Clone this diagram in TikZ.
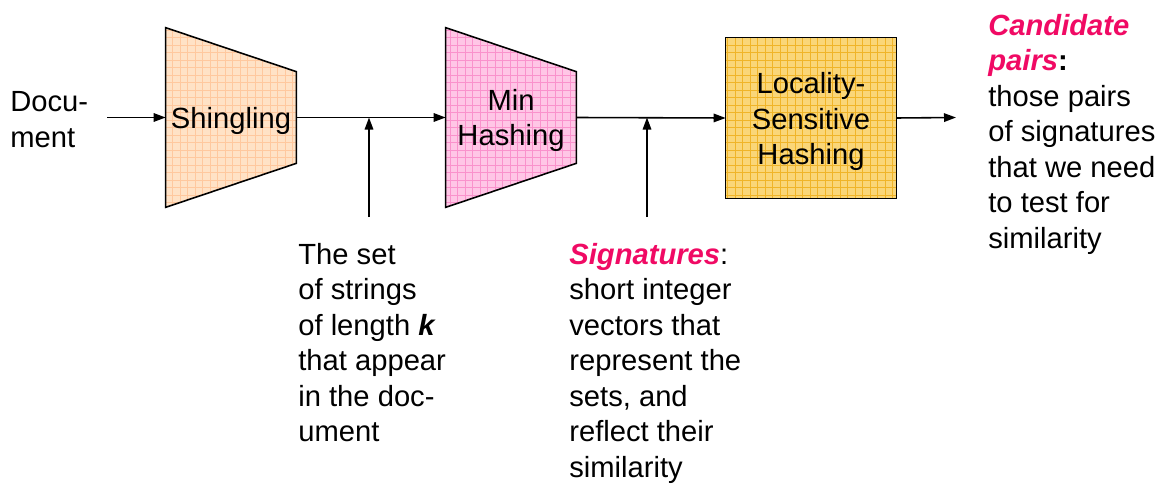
\documentclass[tikz,border=0pt]{standalone}
\usepackage{fontspec}
\setmainfont{Liberation Sans}
\usetikzlibrary{arrows.meta}

\definecolor{keypink}{RGB}{240,10,100}
\definecolor{shinglefill}{RGB}{255,226,198}
\definecolor{shinglegrid}{RGB}{255,200,158}
\definecolor{minfill}{RGB}{255,198,230}
\definecolor{mingrid}{RGB}{250,146,204}
\definecolor{lshfill}{RGB}{250,214,120}
\definecolor{lshgrid}{RGB}{240,180,40}

\tikzset{
stage/.style={inner sep=0pt},
outline/.style={draw=black,line width=0.9pt},
flow/.style={line width=0.9pt,-{Triangle[length=2.4mm,width=1.7mm]}},
note/.style={align=left,inner sep=0pt,anchor=north west}
}

\begin{document}
\begin{tikzpicture}[font=\fontsize{16.6}{20.2}\selectfont]

\useasboundingbox (0,0) rectangle (23.24,-9.76);

%%%%%%%%%%%%%%%%%%%%%%%%%%%%%%%%%%%%%%%%%%%%%%%%%%%%%%%%%%%%%%
% INPUT
%%%%%%%%%%%%%%%%%%%%%%%%%%%%%%%%%%%%%%%%%%%%%%%%%%%%%%%%%%%%%%

\node[
note,
anchor=west
](doc)
at (0.2,-2.39)
{Docu-\\ment};

\coordinate (docout) at (2.14,-2.35);

%%%%%%%%%%%%%%%%%%%%%%%%%%%%%%%%%%%%%%%%%%%%%%%%%%%%%%%%%%%%%%
% SHINGLING
%%%%%%%%%%%%%%%%%%%%%%%%%%%%%%%%%%%%%%%%%%%%%%%%%%%%%%%%%%%%%%

\node[
stage,
minimum width=2.6cm,
minimum height=3.58cm
](shingle)
at (4.62,-2.35)
{};

\begin{scope}
\clip (shingle.north west) -- ([yshift=-0.88cm]shingle.north east)
  -- ([yshift=0.88cm]shingle.south east) -- (shingle.south west) -- cycle;
\fill[shinglefill] (shingle.south west) rectangle (shingle.north east);
\draw[shinglegrid,line width=0.4pt,step=0.15] (shingle.south west) grid (shingle.north east);
\end{scope}

\draw[outline] (shingle.north west) -- ([yshift=-0.88cm]shingle.north east)
  -- ([yshift=0.88cm]shingle.south east) -- (shingle.south west) -- cycle;

\node(shingletext) at ([yshift=-0.07cm]shingle.center) {Shingling};

%%%%%%%%%%%%%%%%%%%%%%%%%%%%%%%%%%%%%%%%%%%%%%%%%%%%%%%%%%%%%%
% MIN HASHING
%%%%%%%%%%%%%%%%%%%%%%%%%%%%%%%%%%%%%%%%%%%%%%%%%%%%%%%%%%%%%%

\node[
stage,
minimum width=2.6cm,
minimum height=3.58cm
](minhash)
at (10.22,-2.35)
{};

\begin{scope}
\clip (minhash.north west) -- ([yshift=-0.88cm]minhash.north east)
  -- ([yshift=0.88cm]minhash.south east) -- (minhash.south west) -- cycle;
\fill[minfill] (minhash.south west) rectangle (minhash.north east);
\draw[mingrid,line width=0.4pt,step=0.15] (minhash.south west) grid (minhash.north east);
\end{scope}

\draw[outline] (minhash.north west) -- ([yshift=-0.88cm]minhash.north east)
  -- ([yshift=0.88cm]minhash.south east) -- (minhash.south west) -- cycle;

\node[align=center](minhashtext) at ([yshift=-0.06cm]minhash.center) {Min\\Hashing};

%%%%%%%%%%%%%%%%%%%%%%%%%%%%%%%%%%%%%%%%%%%%%%%%%%%%%%%%%%%%%%
% LOCALITY-SENSITIVE HASHING
%%%%%%%%%%%%%%%%%%%%%%%%%%%%%%%%%%%%%%%%%%%%%%%%%%%%%%%%%%%%%%

\node[
stage,
minimum width=3.4cm,
minimum height=3.2cm
](lsh)
at (16.22,-2.36)
{};

\fill[lshfill] (lsh.south west) rectangle (lsh.north east);
\begin{scope}
\clip (lsh.south west) rectangle (lsh.north east);
\draw[lshgrid,line width=0.4pt,step=0.15] (lsh.south west) grid (lsh.north east);
\end{scope}
\draw[outline] (lsh.south west) rectangle (lsh.north east);

\node[align=center](lshtext) at ([yshift=-0.07cm]lsh.center) {Locality-\\Sensitive\\Hashing};

\coordinate (lshout) at (19.12,-2.35);

%%%%%%%%%%%%%%%%%%%%%%%%%%%%%%%%%%%%%%%%%%%%%%%%%%%%%%%%%%%%%%
% NOTES
%%%%%%%%%%%%%%%%%%%%%%%%%%%%%%%%%%%%%%%%%%%%%%%%%%%%%%%%%%%%%%

\node[note](setnote)
at (5.96,-4.86)
{The set\\of strings\\of length \textbf{\textit{k}}\\that appear\\in the doc-\\ument};

\node[note](signote)
at (11.38,-4.86)
{\textcolor{keypink}{\textbf{\textit{Signatures}}}:\\short integer\\vectors that\\represent the\\sets, and\\reflect their\\similarity};

\node[note](pairnote)
at (19.76,-0.28)
{\textcolor{keypink}{\textbf{\textit{Candidate}}}\\\textcolor{keypink}{\textbf{\textit{pairs}}}\textbf{:}\\those pairs\\of signatures\\that we need\\to test for\\similarity};

\coordinate (setin) at (7.38,-4.34);
\coordinate (sigin) at (12.94,-4.34);

%%%%%%%%%%%%%%%%%%%%%%%%%%%%%%%%%%%%%%%%%%%%%%%%%%%%%%%%%%%%%%
% CONNECTIONS
%%%%%%%%%%%%%%%%%%%%%%%%%%%%%%%%%%%%%%%%%%%%%%%%%%%%%%%%%%%%%%

\draw[flow] (docout) -- (shingle.west);
\draw[flow] (shingle.east) -- (minhash.west);
\draw[flow] (minhash.east) -- (lsh.west);
\draw[flow] (lsh.east) -- (lshout);
\draw[flow] (setin) -- (setin |- shingle.east);
\draw[flow] (sigin) -- (sigin |- minhash.east);

\end{tikzpicture}
\end{document}
